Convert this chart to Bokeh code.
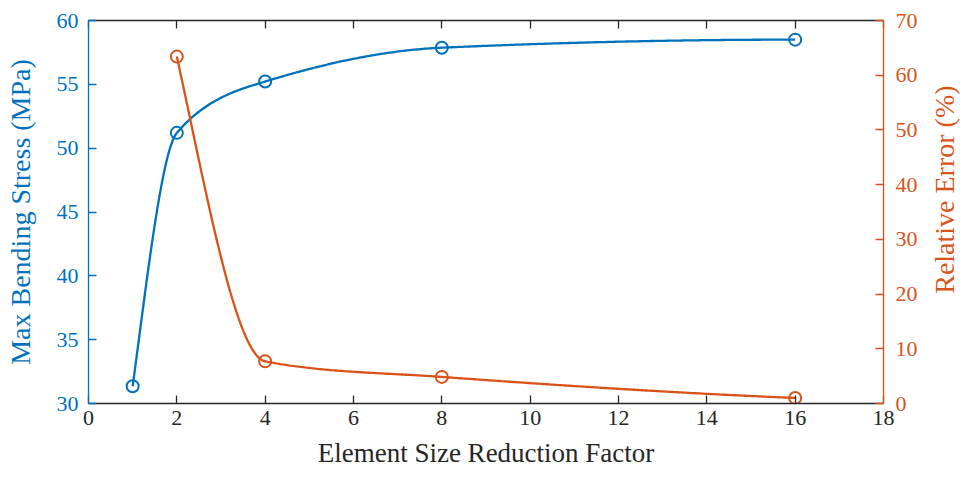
import numpy as np
from bokeh.plotting import figure
from bokeh.layouts import row
from bokeh.models import Range1d, LinearAxis, FixedTicker
from bokeh.core.properties import value
from bokeh.embed import file_html
from bokeh.resources import INLINE

# Mesh refinement study
reduction_factor = [1, 2, 4, 8, 16]
max_stress = [31.35, 51.2, 55.22, 57.87, 58.5]          # MPa
error_factor = [2, 4, 8, 16]
relative_error = [63.4, 7.7, 4.86, 1.02]                # %

x_ticks = [0, 2, 4, 6, 8, 10, 12, 14, 16, 18]
stress_ticks = [30, 35, 40, 45, 50, 55, 60]
error_ticks = [0, 10, 20, 30, 40, 50, 60, 70]

BLUE = "#0072BD"
ORANGE = "#D95319"
DARK = "#262626"
FONT = "Liberation Serif"

TOTAL_W, TOTAL_H = 960, 479
TITLE_STRIP_W = 40          # narrow strip holding the right-hand axis title
BORDER_TOP, BORDER_BOTTOM = 20, 76


def pchip(x, y, n=300):
    """Shape-preserving piecewise cubic Hermite interpolation."""
    x = np.asarray(x, float)
    y = np.asarray(y, float)
    h = np.diff(x)
    m = np.diff(y) / h
    d = np.zeros_like(y)
    for k in range(1, len(x) - 1):
        if m[k - 1] * m[k] > 0:
            w1 = 2 * h[k] + h[k - 1]
            w2 = h[k] + 2 * h[k - 1]
            d[k] = (w1 + w2) / (w1 / m[k - 1] + w2 / m[k])

    def end(h0, h1, m0, m1):
        dd = ((2 * h0 + h1) * m0 - h0 * m1) / (h0 + h1)
        if np.sign(dd) != np.sign(m0):
            dd = 0.0
        elif np.sign(m0) != np.sign(m1) and abs(dd) > abs(3 * m0):
            dd = 3 * m0
        return dd

    if len(x) > 2:
        d[0] = end(h[0], h[1], m[0], m[1])
        d[-1] = end(h[-1], h[-2], m[-1], m[-2])
    else:
        d[:] = m[0]
    xs = np.linspace(x[0], x[-1], n)
    idx = np.clip(np.searchsorted(x, xs) - 1, 0, len(x) - 2)
    t = (xs - x[idx]) / h[idx]
    h00 = 2 * t**3 - 3 * t**2 + 1
    h10 = t**3 - 2 * t**2 + t
    h01 = -2 * t**3 + 3 * t**2
    h11 = t**3 - t**2
    ys = (h00 * y[idx] + h10 * h[idx] * d[idx]
          + h01 * y[idx + 1] + h11 * h[idx] * d[idx + 1])
    return xs, ys


p = figure(width=TOTAL_W - TITLE_STRIP_W, height=TOTAL_H,
           output_backend="svg", toolbar_location=None,
           x_range=Range1d(0, 18), y_range=Range1d(30, 60),
           min_border_left=88, min_border_right=35,
           min_border_top=BORDER_TOP, min_border_bottom=BORDER_BOTTOM,
           x_axis_location=None, y_axis_location=None)
p.extra_y_ranges = {"err": Range1d(0, 70)}
p.xgrid.visible = False
p.ygrid.visible = False
p.outline_line_color = None
p.background_fill_color = "white"
p.border_fill_color = "white"


def style(axis, color, ticks, title_size):
    axis.ticker = FixedTicker(ticks=ticks)
    axis.axis_line_color = color
    axis.axis_line_width = 1.3
    axis.major_tick_line_color = color
    axis.major_tick_line_width = 1.3
    axis.major_tick_in = 8
    axis.major_tick_out = 0
    axis.minor_tick_line_color = None
    axis.major_label_text_color = color
    axis.major_label_text_font = FONT
    axis.major_label_text_font_size = "22px"
    axis.axis_label_text_color = color
    axis.axis_label_text_font = FONT
    axis.axis_label_text_font_size = title_size
    axis.axis_label_text_font_style = "normal"


xb = LinearAxis(axis_label="Element Size Reduction Factor")
style(xb, DARK, x_ticks, "27px")
xb.major_label_standoff = 7
xb.axis_label_standoff = 10
p.add_layout(xb, "below")

xt = LinearAxis()
style(xt, DARK, x_ticks, "27px")
xt.major_label_text_color = None
xt.major_label_text_font_size = "0px"
p.add_layout(xt, "above")

yl = LinearAxis(axis_label="Max Bending Stress (MPa)")
style(yl, BLUE, stress_ticks, "28px")
yl.major_label_standoff = 10
yl.axis_label_standoff = 18
p.add_layout(yl, "left")

yr = LinearAxis(y_range_name="err")
style(yr, ORANGE, error_ticks, "28px")
yr.major_label_standoff = 12
p.add_layout(yr, "right")

sx, sy = pchip(reduction_factor, max_stress)
p.line(sx, sy, line_color=BLUE, line_width=2.3)
p.scatter(reduction_factor, max_stress, marker="circle", size=12,
          line_color=BLUE, line_width=2, fill_color=None)

ex, ey = pchip(error_factor, relative_error)
p.line(ex, ey, line_color=ORANGE, line_width=2.3, y_range_name="err")
p.scatter(error_factor, relative_error, marker="circle", size=12,
          line_color=ORANGE, line_width=2, fill_color=None, y_range_name="err")

# Right-hand axis title in its own strip, reading bottom-to-top and
# centred on the plot frame's vertical middle.
strip = figure(width=TITLE_STRIP_W, height=TOTAL_H, output_backend="svg",
               toolbar_location=None, x_range=Range1d(0, 1),
               y_range=Range1d(0, TOTAL_H), min_border=0,
               x_axis_location=None, y_axis_location=None)
strip.xgrid.visible = False
strip.ygrid.visible = False
strip.outline_line_color = None
strip.background_fill_color = "white"
strip.border_fill_color = "white"
frame_mid = BORDER_BOTTOM + (TOTAL_H - BORDER_TOP - BORDER_BOTTOM) / 2
strip.text(x=[0.6], y=[frame_mid], text=["Relative Error (%)"],
           angle=np.pi / 2, text_align="center", text_baseline="middle",
           text_font=value(FONT), text_font_size="28px",
           text_color=ORANGE)

layout = row(p, strip, spacing=0)
open("out.html", "w").write(file_html(layout, INLINE))
